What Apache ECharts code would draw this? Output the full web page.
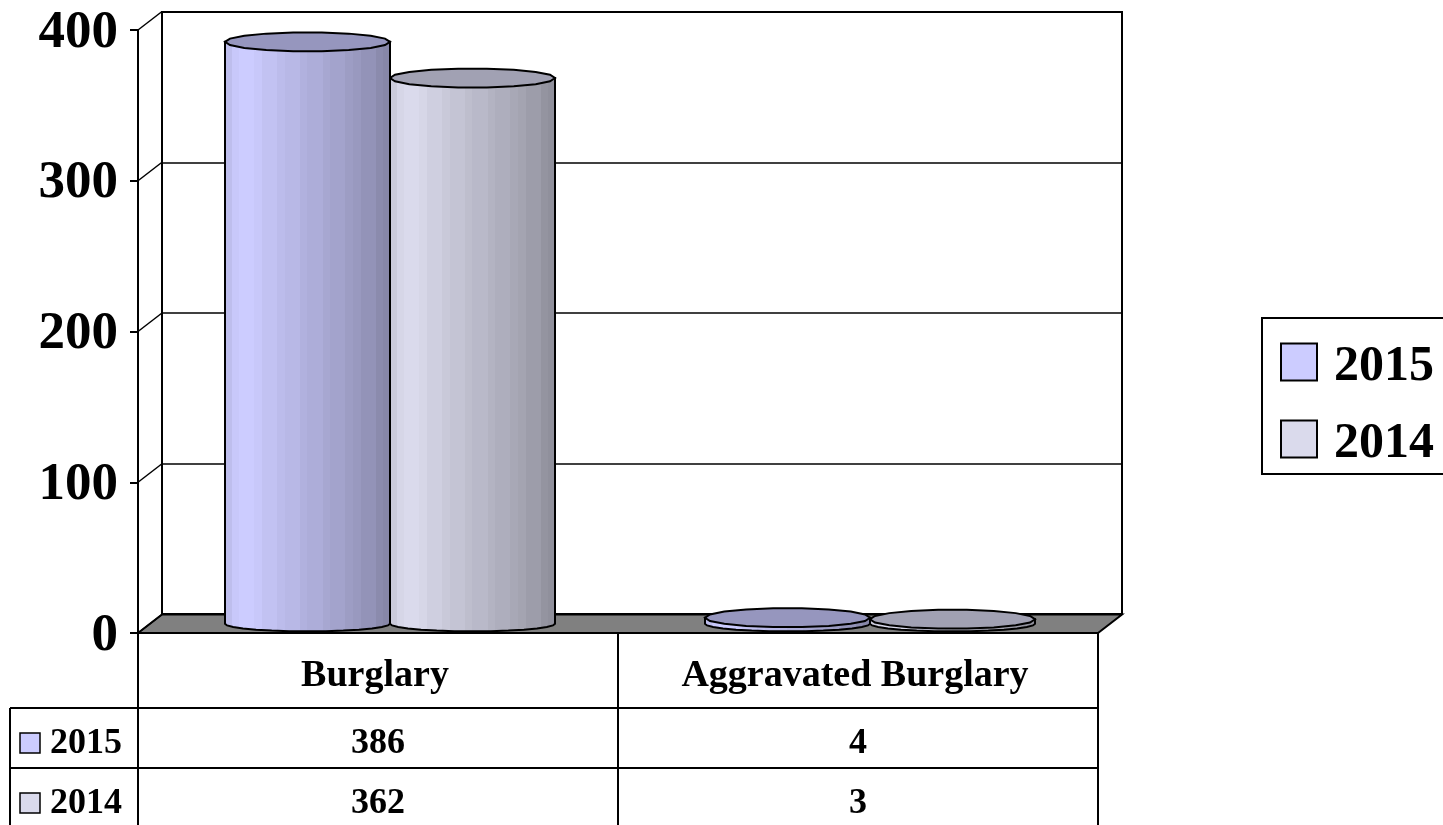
<!DOCTYPE html>
<html><head><meta charset="utf-8">
<style>html,body{margin:0;padding:0;background:#fff;overflow:hidden}#c{width:1443px;height:825px}</style>
<script src="https://cdn.jsdelivr.net/npm/echarts@6/dist/echarts.min.js"></script>
</head><body><div id="c"></div>
<script>
const categories = ['Burglary', 'Aggravated Burglary'];
const years = ['2015', '2014'];
const values2015 = [386, 4];
const values2014 = [362, 3];
const yTicks = [0, 100, 200, 300, 400];
const swatchColors = ['#CCCCFF', '#DADAEC'];
const topColors = ['#9696BE', '#A1A1B3'];
const rows = [values2015, values2014];

const FONT = '"Liberation Serif", serif';
const DEPTH_X = 24, DEPTH_Y = 18.5;
const shadeProfile = [.93,.98,1,1,.98,.95,.95,.92,.9,.9,.87,.85,.85,.82,.8,.8,.77,.75,.72,.72,.68,.66];
const bar2 = 165 / 480;

function mix(hex, k) {
  const n = parseInt(hex.slice(1), 16);
  const c = s => Math.round(((n >> s) & 255) * k);
  return `rgb(${c(16)},${c(8)},${c(0)})`;
}
function bands(hex) {
  const out = [], N = shadeProfile.length;
  shadeProfile.forEach((k, i) => {
    out.push({offset: i / N, color: mix(hex, k)});
    out.push({offset: (i + 1) / N, color: mix(hex, k)});
  });
  return out;
}
function ellipsePts(cx, cy, rx, ry, from, to, n) {
  const pts = [];
  for (let i = 0; i <= n; i++) {
    const a = from + (to - from) * i / n;
    pts.push([cx + rx * Math.cos(a), cy + ry * Math.sin(a)]);
  }
  return pts;
}
function cylinder(sIdx) {
  return function (params, api) {
    const v = api.value(1), cat = api.value(0);
    const top = api.coord([cat, v]), base = api.coord([cat, 0]);
    const w = api.size([1, 0])[0] * bar2, rx = w / 2, ry = 9.5;
    const cx = top[0] + DEPTH_X / 2 + (sIdx === 0 ? -rx : rx);
    const yT = top[1] - DEPTH_Y / 2, yB = base[1] - DEPTH_Y / 2;
    const body = [[cx - rx, yT]].concat(ellipsePts(cx, yB, rx, ry * .8, Math.PI, 0, 14), [[cx + rx, yT]]);
    return {
      type: 'group',
      children: [
        {type: 'polygon', shape: {points: body}, style: {
          fill: {type: 'linear', x: 0, y: 0, x2: 1, y2: 0, colorStops: bands(swatchColors[sIdx])},
          stroke: '#000', lineWidth: 2}},
        {type: 'polygon', shape: {points: ellipsePts(cx, yT, rx, ry, 0, Math.PI * 2, 18)},
          style: {fill: topColors[sIdx], stroke: '#000', lineWidth: 2}}
      ]
    };
  };
}
function floorAndWall(params, api) {
  const cs = params.coordSys, children = [];
  const x = cs.x, yB = cs.y + cs.height, w = cs.width;
  children.push({type: 'polygon', shape: {points: [[x, yB], [x + DEPTH_X, yB - DEPTH_Y], [x + w + DEPTH_X, yB - DEPTH_Y], [x + w, yB]]},
    style: {fill: '#808080', stroke: '#000', lineWidth: 2}});
  yTicks.forEach(t => {
    const p = api.coord([0, t]);
    children.push({type: 'line', shape: {x1: x, y1: p[1], x2: x + DEPTH_X, y2: p[1] - DEPTH_Y},
      style: {stroke: '#000', lineWidth: 1.5}});
  });
  return {type: 'group', children};
}
function tableValues(params, api) {
  const i = params.dataIndex;
  const p = api.coord([i, 0]);
  return {type: 'group', children: rows.map((r, k) => ({
    type: 'text', style: {text: String(r[i]), x: p[0], y: p[1] + 111 + k * 60,
      font: 'bold 36px ' + FONT, fill: '#000', align: 'center', verticalAlign: 'middle'}
  }))};
}
const hLine = (x1, x2, y) => ({type: 'line', shape: {x1, y1: y, x2, y2: y}, style: {stroke: '#000', lineWidth: 2}, z: 5});
const graphics = [
  hLine(10, 1098, 708), hLine(10, 1098, 768),
  {type: 'line', shape: {x1: 10, y1: 708, x2: 10, y2: 825}, style: {stroke: '#000', lineWidth: 2}, z: 5}
];
years.forEach((yr, k) => {
  const y = 744 + k * 60;
  graphics.push({type: 'rect', shape: {x: 20, y: y - 11, width: 20, height: 20},
    style: {fill: swatchColors[k], stroke: '#000', lineWidth: 1.5}, z: 5});
  graphics.push({type: 'text', style: {text: yr, x: 50, y: y, font: 'bold 36px ' + FONT, fill: '#000', verticalAlign: 'middle'}, z: 5});
});

const chart = echarts.init(document.getElementById('c'), null, {renderer: 'canvas'});
chart.setOption({
  animation: false,
  backgroundColor: '#fff',
  grid: [
    {left: 138, top: 30, width: 960, height: 603, outerBoundsMode: 'none'},
    {left: 162, top: 12, width: 960, height: 602, show: true, borderColor: '#000', borderWidth: 2, backgroundColor: '#fff', outerBoundsMode: 'none', z: 0}
  ],
  xAxis: [
    {type: 'category', gridIndex: 0, data: categories, z: 4,
      axisLine: {show: true, lineStyle: {color: '#000', width: 2}},
      axisTick: {show: true, alignWithLabel: false, length: 192, lineStyle: {color: '#000', width: 2}},
      axisLabel: {show: true, interval: 0, margin: 20, padding: [4, 6, 0, 0], color: '#000', fontFamily: FONT, fontWeight: 'bold', fontSize: 38}},
    {type: 'category', gridIndex: 1, data: categories, show: false}
  ],
  yAxis: [
    {type: 'value', gridIndex: 0, min: 0, max: 400, interval: 100, z: 4,
      axisLine: {show: true, lineStyle: {color: '#000', width: 2}},
      axisTick: {show: true, length: 8, lineStyle: {color: '#000', width: 2}},
      axisLabel: {show: true, margin: 20, formatter: '{a|{value}}', rich: {a: {padding: [6, 0, 0, 0], color: '#000', fontFamily: FONT, fontWeight: 'bold', fontSize: 53}}},
      splitLine: {show: false}},
    {type: 'value', gridIndex: 1, min: 0, max: 400, interval: 100,
      axisLine: {show: false}, axisTick: {show: false}, axisLabel: {show: false},
      splitLine: {show: true, lineStyle: {color: '#000', width: 1.5}}}
  ],
  legend: {
    left: 1262, top: 318, orient: 'vertical', padding: [24, 30, 5, 18],
    backgroundColor: '#fff', borderColor: '#000', borderWidth: 2,
    itemWidth: 36, itemHeight: 37, itemGap: 27, icon: 'rect',
    data: years, itemStyle: {borderColor: '#000', borderWidth: 2},
    formatter: '{a|{name}}',
    textStyle: {color: '#000', padding: [0, 0, 0, 12], rich: {a: {padding: [10, 0, 0, 0], color: '#000', fontFamily: FONT, fontWeight: 'bold', fontSize: 50}}}
  },
  graphic: graphics,
  series: [
    {type: 'custom', name: 'floor', z: 1, xAxisIndex: 0, yAxisIndex: 0, clip: false, silent: true, data: [[0, 0]], renderItem: floorAndWall, encode: {x: 0, y: 1}},
    {type: 'custom', name: years[0], z: 3, xAxisIndex: 0, yAxisIndex: 0, clip: false, renderItem: cylinder(0), encode: {x: 0, y: 1},
      itemStyle: {color: swatchColors[0]}, data: values2015.map((v, i) => [i, v])},
    {type: 'custom', name: years[1], z: 2, xAxisIndex: 0, yAxisIndex: 0, clip: false, renderItem: cylinder(1), encode: {x: 0, y: 1},
      itemStyle: {color: swatchColors[1]}, data: values2014.map((v, i) => [i, v])},
    {type: 'custom', name: 'table', z: 5, xAxisIndex: 0, yAxisIndex: 0, clip: false, silent: true, renderItem: tableValues, encode: {x: 0, y: 1},
      data: categories.map((c, i) => [i, 0])}
  ]
});
</script></body></html>
